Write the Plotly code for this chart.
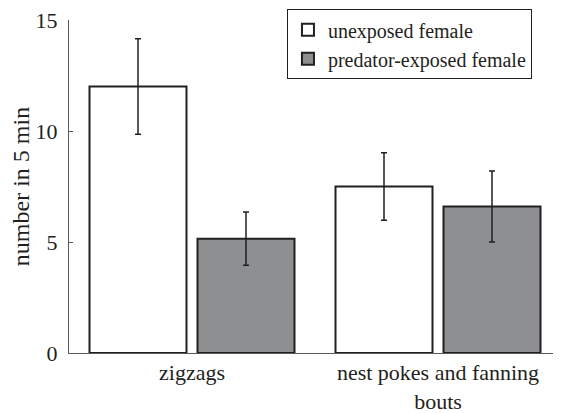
import plotly.graph_objects as go

categories = ["zigzags", "nest pokes and fanning<br>bouts"]
unexposed = [12.0, 7.5]
unexposed_err = [2.15, 1.52]
exposed = [5.15, 6.6]
exposed_err = [1.2, 1.6]
series_names = ["unexposed female", "predator-exposed female"]
y_ticks = [0, 5, 10, 15]

FONT = "Liberation Serif"
EDGE = "#231f20"
AXIS = "#58595b"

fig = go.Figure()
fig.add_trace(go.Bar(
    x=categories, y=unexposed, name=series_names[0],
    marker=dict(color="white", line=dict(color=EDGE, width=2)),
    error_y=dict(type="data", array=unexposed_err, color=EDGE, thickness=1.5, width=3),
))
fig.add_trace(go.Bar(
    x=categories, y=exposed, name=series_names[1],
    marker=dict(color="#8e8f91", line=dict(color=EDGE, width=2)),
    error_y=dict(type="data", array=exposed_err, color=EDGE, thickness=1.5, width=3),
))

# page body has an 8px default margin, so the figure is 8px smaller than the window
fig.update_layout(
    width=553, height=406,
    margin=dict(l=61, r=0, t=12, b=54),
    paper_bgcolor="white", plot_bgcolor="white",
    font=dict(family=FONT, size=22, color="#231f20"),
    barmode="group", bargap=0.122, bargroupgap=0.102,
    showlegend=True,
    legend=dict(
        x=0.443, y=1.032, xanchor="left", yanchor="top",
        bordercolor=EDGE, borderwidth=1, bgcolor="white",
        font=dict(family=FONT, size=20),
        tracegroupgap=0, itemwidth=30,
    ),
    xaxis=dict(
        showline=True, linecolor=AXIS, linewidth=1,
        ticks="", showgrid=False, zeroline=False,
        tickfont=dict(family=FONT, size=22),
    ),
    yaxis=dict(
        range=[0, 15], tickvals=y_ticks,
        showline=True, linecolor=AXIS, linewidth=1,
        ticks="inside", ticklen=4, tickcolor=AXIS,
        showgrid=False, zeroline=False,
        tickfont=dict(family=FONT, size=22),
        ticklabelstandoff=6, ticklabeloverflow="allow",
        title=dict(text="number in 5 min", font=dict(family=FONT, size=24), standoff=6),
    ),
)

fig.write_html("out.html")
